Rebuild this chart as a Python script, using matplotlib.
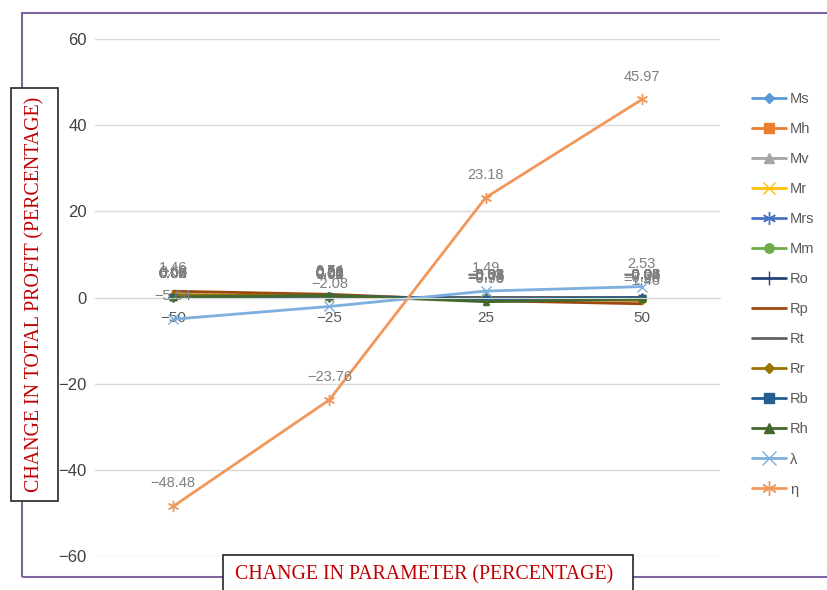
import numpy as np
import matplotlib.pyplot as plt
from matplotlib.patches import Rectangle

plt.rcParams["font.family"] = ["Liberation Sans", "DejaVu Sans"]

# Sensitivity of total profit to each parameter
changes = ["−50", "−25", "25", "50"]

ms = [0.08, 0.04, -0.04, -0.08]
mh = [0.06, 0.03, -0.03, -0.06]
mv = [0.04, 0.02, -0.02, -0.04]
mr = [0.05, 0.02, -0.02, -0.05]
mrs = [0.02, 0.01, -0.01, -0.02]
mm = [0.06, 0.03, -0.03, -0.06]
ro = [0.08, 0.04, -0.04, -0.08]
rp = [1.46, 0.74, -0.73, -1.46]
rt = [0.03, 0.01, -0.01, -0.03]
rr = [0.68, 0.34, -0.34, -0.68]
rb = [0.05, 0.38, -0.38, -0.05]
rh = [0.02, 0.50, -0.98, -0.34]
lam = [-5.04, -2.08, 1.49, 2.53]
eta = [-48.48, -23.76, 23.18, 45.97]

asterisk = (6, 2, 0)
series = [
    ("Ms", ms, "#5B9BD5", "D", 4),
    ("Mh", mh, "#ED7D31", "s", 5),
    ("Mv", mv, "#A5A5A5", "^", 5),
    ("Mr", mr, "#FFC000", "x", 6),
    ("Mrs", mrs, "#4472C4", asterisk, 7),
    ("Mm", mm, "#70AD47", "o", 5),
    ("Ro", ro, "#264478", "+", 7),
    ("Rp", rp, "#9E480E", None, 0),
    ("Rt", rt, "#636363", "_", 6),
    ("Rr", rr, "#997300", "D", 4),
    ("Rb", rb, "#255E91", "s", 5),
    ("Rh", rh, "#43682B", "^", 5),
    ("λ", lam, "#7CAFDD", "x", 7),
    ("η", eta, "#F1975A", asterisk, 8),
]

fig = plt.figure(figsize=(8.27, 5.90), dpi=100)
ax = fig.add_axes([95 / 827, 1 - 556 / 590, 625 / 827, 517 / 590])

x = np.arange(len(changes))
for name, vals, color, marker, ms_ in series:
    ax.plot(x, vals, color=color, lw=2, marker=marker, markersize=ms_,
            markeredgewidth=1.0, label=name, solid_capstyle="round")
    for xi, v in zip(x, vals):
        ax.annotate(f"{v:.2f}".replace("-", "−"), (xi, v), xytext=(0, 16.5),
                    textcoords="offset points", ha="center", va="center",
                    fontsize=10.5, color="#7F7F7F")

ax.set_xlim(-0.5, 3.5)
ax.set_ylim(-60, 60)
ax.set_yticks(np.arange(-60, 61, 20))
ax.set_yticklabels([str(t).replace("-", "−") for t in range(-60, 61, 20)])
ax.set_xticks(x)
ax.set_xticklabels(changes)
ax.grid(axis="y", color="#D9D9D9", lw=1)
ax.set_axisbelow(True)
for s in ["top", "right", "left"]:
    ax.spines[s].set_visible(False)
ax.spines["bottom"].set_position(("data", 0))
ax.spines["bottom"].set_color("#D9D9D9")
ax.tick_params(axis="both", length=0, labelcolor="#404040")
ax.tick_params(axis="y", labelsize=12, pad=6)
ax.tick_params(axis="x", labelsize=11, pad=10, labelcolor="#595959")

leg = fig.legend(loc="upper left", bbox_to_anchor=(752 / 827, 1 - 92 / 590),
                 frameon=False, fontsize=10.5, labelspacing=1.1,
                 handlelength=2.35, handletextpad=0.25, borderpad=0,
                 borderaxespad=0, markerscale=1.35)
for t in leg.get_texts():
    t.set_color("#595959")

# chart border
fig.patches.append(Rectangle((22 / 827, 1 - 577 / 590), 1, 564 / 590,
                             transform=fig.transFigure, fill=False,
                             edgecolor="#8064A2", lw=1.5, zorder=0))

# boxed axis titles
fig.patches.append(Rectangle((11 / 827, 1 - 501 / 590), 47 / 827, 413 / 590,
                             transform=fig.transFigure, facecolor="white",
                             edgecolor="#262626", lw=1.2, zorder=1))
fig.text(34.5 / 827, 1 - 294 / 590, "CHANGE IN TOTAL PROFIT (PERCENTAGE)",
         rotation=90, ha="center", va="center", family="Liberation Serif",
         fontsize=14.3, color="#C00000", zorder=2)

fig.patches.append(Rectangle((223 / 827, -0.02), 410 / 827, 0.02 + 35 / 590,
                             transform=fig.transFigure, facecolor="white",
                             edgecolor="#262626", lw=1.2, zorder=1))
fig.text(424 / 827, 1 - 575 / 590, "CHANGE IN PARAMETER (PERCENTAGE)",
         ha="center", va="center", family="Liberation Serif",
         fontsize=14.3, color="#C00000", zorder=2)

fig.savefig("out.png", dpi=100)
